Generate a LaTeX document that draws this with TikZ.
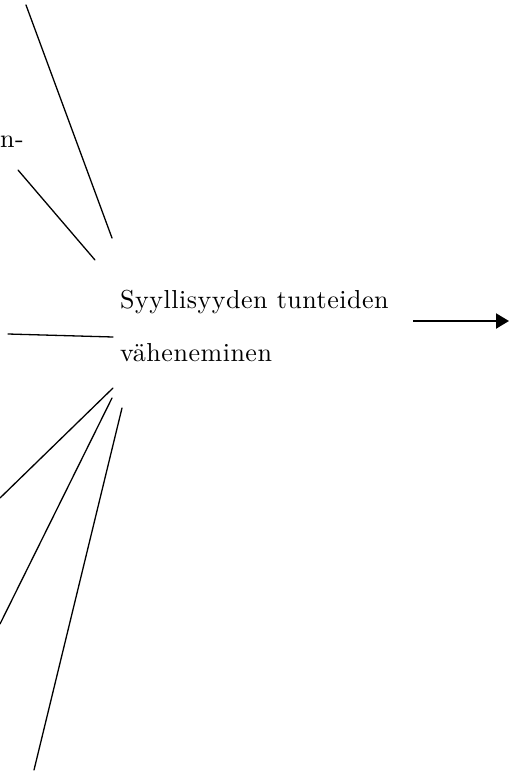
\documentclass[tikz,border=0pt]{standalone}
\usepackage{fontspec}
\usetikzlibrary{arrows.meta}
\newfontfamily\labelfont{lmroman10-regular.otf}[LetterSpace=2]
\tikzset{
  spoke/.style={line width=1.3pt, line cap=round},
  outarrow/.style={line width=2.2pt, -{Triangle[length=13pt,width=15pt]}},
  labeltext/.style={inner sep=0pt, align=left, font=\labelfont\fontsize{26}{53}\selectfont},
}
\begin{document}
\begin{tikzpicture}[x=1pt,y=-1pt]
  \useasboundingbox (0,0) rectangle (510,774);
  \fill[white] (0,0) rectangle (510,774);

  % central statement (base anchor sits on the last line)
  \node[labeltext, anchor=base west] (center) at (120,361)
    {Syyllisyyden tunteiden\\väheneminen};

  % remnant of a label at the left edge
  \node[labeltext, anchor=base west] (frag) at (0,147) {n-};

  % end points of the spokes
  \coordinate (a1) at (26,5);    \coordinate (b1) at (112,238);
  \coordinate (a2) at (18,170);  \coordinate (b2) at (95,260);
  \coordinate (a3) at (8,334);   \coordinate (b3) at (113,337);
  \coordinate (a4) at (0,498);   \coordinate (b4) at (113,388);
  \coordinate (a5) at (0,624);   \coordinate (b5) at (112,398);
  \coordinate (a6) at (34,770);  \coordinate (b6) at (122,408);

  \draw[spoke] (a1) -- (b1);
  \draw[spoke] (a2) -- (b2);
  \draw[spoke] (a3) -- (b3);
  \draw[spoke] (a4) -- (b4);
  \draw[spoke] (a5) -- (b5);
  \draw[spoke] (a6) -- (b6);

  % outgoing arrow
  \coordinate (arrS) at (413,321);
  \coordinate (arrE) at (509,321);
  \draw[outarrow] (arrS) -- (arrE);
\end{tikzpicture}
\end{document}
